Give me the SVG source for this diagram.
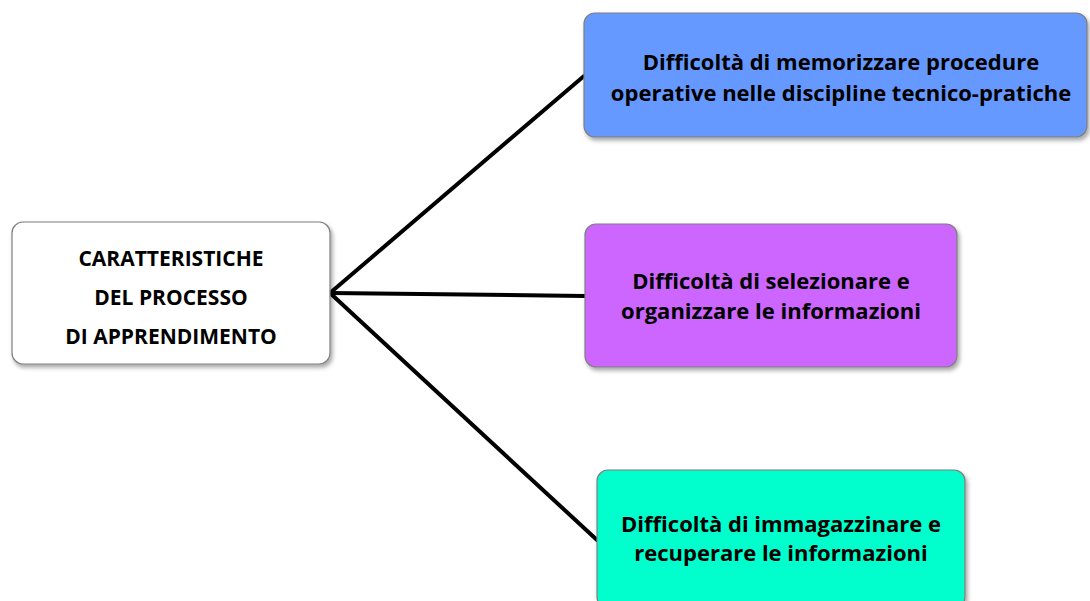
<svg xmlns="http://www.w3.org/2000/svg" width="1090" height="601" viewBox="0 0 1090 601">
<defs>
<filter id="sh" x="-10%" y="-10%" width="120%" height="130%">
<feDropShadow dx="2" dy="3" stdDeviation="2" flood-color="#000" flood-opacity="0.35"/>
</filter>
<style>
.box{stroke:#7f7f7f;stroke-width:1.2;filter:url(#sh)}
.t{font-family:"Open Sans",Lato,"Liberation Sans",sans-serif;font-weight:bold;fill:#000;text-anchor:middle}
.c{stroke:#000;stroke-width:4;fill:none;stroke-linecap:round}
</style>
</defs>
<rect width="1090" height="601" fill="#fff"/>
<g id="connectors">
<line class="c" x1="330" y1="293" x2="584" y2="76"/>
<line class="c" x1="330" y1="293" x2="585" y2="296"/>
<line class="c" x1="330" y1="293" x2="597" y2="540"/>
</g>
<g id="n0">
<rect class="box" x="12" y="222" width="318" height="142" rx="11" fill="#fff"/>
<text class="t" x="171" y="266" font-size="21">CARATTERISTICHE</text>
<text class="t" x="171" y="305" font-size="21">DEL PROCESSO</text>
<text class="t" x="171" y="344" font-size="21">DI APPRENDIMENTO</text>
</g>
<g id="n1">
<rect class="box" x="584" y="13" width="503" height="124" rx="11" fill="#6699FF"/>
<text class="t" x="841" y="70" font-size="22">Difficoltà di memorizzare procedure</text>
<text class="t" x="841" y="101" font-size="22">operative nelle discipline tecnico-pratiche</text>
</g>
<g id="n2">
<rect class="box" x="585" y="224" width="372" height="143" rx="11" fill="#CC66FF"/>
<text class="t" x="771" y="289" font-size="22">Difficoltà di selezionare e</text>
<text class="t" x="771" y="319" font-size="22">organizzare le informazioni</text>
</g>
<g id="n3">
<rect class="box" x="597" y="470" width="368" height="138" rx="11" fill="#00FFCC"/>
<text class="t" x="781" y="532" font-size="22">Difficoltà di immagazzinare e</text>
<text class="t" x="781" y="561" font-size="22">recuperare le informazioni</text>
</g>
</svg>
